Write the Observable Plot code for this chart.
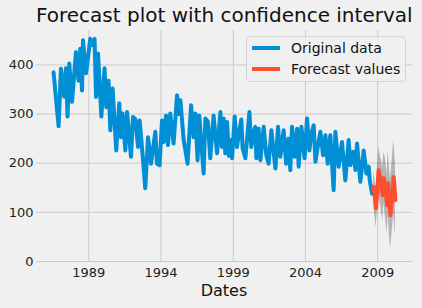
<!DOCTYPE html>
<html>
<head>
<meta charset="utf-8">
<script src="https://cdn.jsdelivr.net/npm/d3@7"></script>
<script src="https://cdn.jsdelivr.net/npm/@observablehq/plot@0.6"></script>
<style>
  html, body { margin: 0; padding: 0; background: #f0f0f0; }
  #wrap { position: relative; width: 422px; height: 308px; background: #f0f0f0; font-family: "DejaVu Sans", sans-serif; overflow: hidden; }
  #title { position: absolute; left: 36px; width: 376px; top: 3px; text-align: center; font-size: 20px; color: #111; white-space: nowrap; line-height: 24px; }
  #xlabel { position: absolute; left: 36px; width: 376px; top: 281px; text-align: center; font-size: 16px; color: #111; line-height: 20px; }
  #legend { position: absolute; left: 246px; top: 36px; width: 158px; height: 44px; border: 1px solid #d4d4d4; border-radius: 4px; background: rgba(240,240,240,0.8); font-size: 14px; color: #111; }
  .item { position: absolute; left: 5px; height: 18px; display: flex; align-items: center; }
  .sw { width: 28px; height: 4px; margin-right: 11px; }
</style>
</head>
<body>
<div id="wrap">
  <div id="chart"></div>
  <div id="title">Forecast plot with confidence interval</div>
  <div id="xlabel">Dates</div>
  <div id="legend">
    <div class="item" style="top:2px"><div class="sw" id="sw0"></div><span id="lg0"></span></div>
    <div class="item" style="top:23px"><div class="sw" id="sw1"></div><span id="lg1"></span></div>
  </div>
</div>
<script>
// ---- data (decimal years) ----
const seriesNames = ["Original data", "Forecast values"];
const seriesColors = ["#008fd5", "#fc4f30"];
const xTicks = [1989, 1994, 1999, 2004, 2009];
const yTicks = [0, 100, 200, 300, 400];

const origYears = [1986.56,1986.91,1987.07,1987.30,1987.42,1987.53,1987.65,1987.84,1988.11,1988.29,1988.41,1988.53,1988.60,1988.81,1988.97,1989.10,1989.26,1989.40,1989.50,1989.64,1989.87,1990.09,1990.21,1990.37,1990.49,1990.65,1990.90,1991.11,1991.23,1991.34,1991.53,1991.65,1991.92,1992.06,1992.22,1992.41,1992.52,1992.68,1992.91,1993.10,1993.31,1993.47,1993.61,1993.72,1993.90,1994.07,1994.18,1994.35,1994.48,1994.64,1994.87,1995.11,1995.22,1995.34,1995.57,1995.84,1996.08,1996.26,1996.38,1996.53,1996.65,1996.95,1997.07,1997.24,1997.41,1997.64,1997.88,1998.11,1998.22,1998.34,1998.45,1998.57,1998.70,1998.80,1998.92,1999.10,1999.26,1999.39,1999.56,1999.65,1999.84,2000.12,2000.25,2000.39,2000.53,2000.60,2000.76,2000.88,2001.11,2001.29,2001.45,2001.64,2001.92,2002.10,2002.26,2002.49,2002.66,2002.82,2002.95,2003.07,2003.25,2003.42,2003.53,2003.72,2003.94,2004.11,2004.27,2004.41,2004.57,2004.69,2004.86,2005.03,2005.22,2005.38,2005.54,2005.72,2005.95,2006.07,2006.30,2006.53,2006.76,2006.99,2007.11,2007.30,2007.46,2007.57,2007.80,2008.03,2008.22,2008.38,2008.45,2008.61];
const origValues = [385,275,392,335,393,295,403,325,426,368,433,348,450,383,420,453,440,453,335,423,295,393,314,368,267,352,226,322,253,301,226,304,213,294,290,233,287,233,149,253,199,235,264,199,196,287,243,297,237,301,240,338,300,328,247,199,318,253,301,206,297,179,291,285,210,297,220,304,233,291,220,284,215,247,210,295,233,260,289,230,210,304,233,260,274,210,270,206,274,216,199,267,189,274,213,267,199,250,186,274,213,270,193,274,210,291,226,260,277,203,235,264,216,257,199,257,145,264,193,243,165,247,196,223,186,240,162,226,179,193,165,138];

const fcYears  = [2008.72,2008.89,2009.07,2009.26,2009.35,2009.42,2009.53,2009.65,2009.72,2009.88,2010.00,2010.11,2010.23];
const fcValues = [152,108,186,152,135,170,150,115,159,94,132,172,125];
const fcLower  = [118,68,140,100,82,118,92,55,95,25,60,98,50];
const fcUpper  = [185,150,232,205,190,222,210,178,226,165,205,248,200];

const orig = origYears.map((t, i) => ({t, v: origValues[i]}));
const fc = fcYears.map((t, i) => ({t, v: fcValues[i], lo: fcLower[i], hi: fcUpper[i]}));

const chart = Plot.plot({
  width: 422,
  height: 308,
  marginTop: 30,
  marginBottom: 47,
  marginLeft: 36,
  marginRight: 10,
  style: {background: "transparent", fontFamily: "DejaVu Sans, sans-serif", fontSize: "13px", color: "#222"},
  x: {domain: [1985.38, 2011.41], label: null},
  y: {domain: [0, 470], label: null},
  marks: [
    Plot.gridX(xTicks, {stroke: "#cbcbcb", strokeOpacity: 1, strokeWidth: 1}),
    Plot.gridY(yTicks, {stroke: "#cbcbcb", strokeOpacity: 1, strokeWidth: 1}),
    Plot.axisX(xTicks, {tickSize: 0, tickPadding: 6, tickFormat: d => String(d), label: null}),
    Plot.axisY(yTicks, {tickSize: 0, tickPadding: 3, label: null}),
    Plot.line(orig, {x: "t", y: "v", stroke: seriesColors[0], strokeWidth: 4}),
    Plot.areaY(fc, {x: "t", y1: "lo", y2: "hi", fill: "#000", fillOpacity: 0.25}),
    Plot.line(fc, {x: "t", y: "v", stroke: seriesColors[1], strokeWidth: 4})
  ]
});
document.getElementById("chart").appendChild(chart);
for (let i = 0; i < 2; i++) {
  document.getElementById("sw" + i).style.background = seriesColors[i];
  document.getElementById("lg" + i).textContent = seriesNames[i];
}
</script>
</body>
</html>
